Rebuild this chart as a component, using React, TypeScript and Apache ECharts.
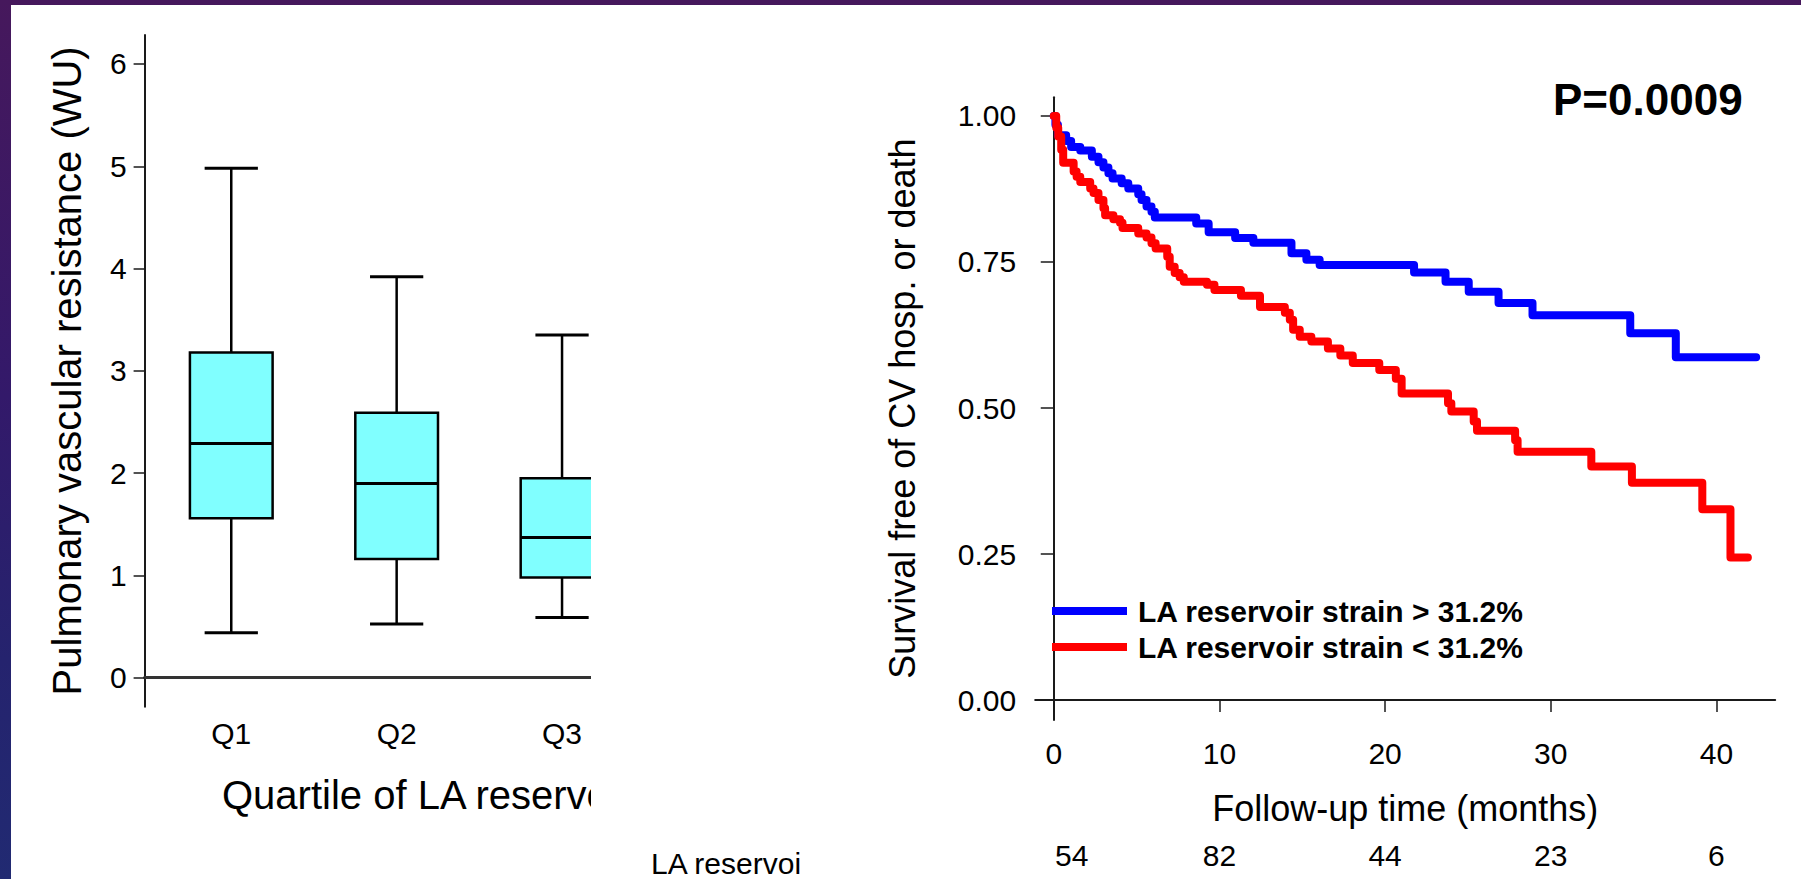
import React, { useEffect, useRef } from "react";
import * as echarts from "echarts";

// ---------- Left panel: box plot of PVR by quartile ----------
const quartiles = ["Q1", "Q2", "Q3"];
const pvrMin = [0.44, 0.525, 0.59];
const pvrQ1 = [1.56, 1.16, 0.98];
const pvrMedian = [2.29, 1.9, 1.37];
const pvrQ3 = [3.18, 2.59, 1.95];
const pvrMax = [4.98, 3.92, 3.35];
const pvrTicks = [0, 1, 2, 3, 4, 5, 6];

// ---------- Right panel: Kaplan-Meier curves ----------
const highStrainName = "LA reservoir strain > 31.2%";
const lowStrainName = "LA reservoir strain < 31.2%";
const highStrain: [number, number][] = [
  [0, 1.0], [0.1, 0.985], [0.25, 0.967], [0.75, 0.957], [1.05, 0.947], [1.6, 0.941],
  [2.3, 0.93], [2.7, 0.921], [3.0, 0.912], [3.3, 0.902], [3.55, 0.893], [4.1, 0.885],
  [4.5, 0.876], [5.1, 0.866], [5.3, 0.856], [5.6, 0.845], [5.9, 0.836], [6.1, 0.826],
  [8.6, 0.816], [9.35, 0.801], [10.95, 0.791], [12.05, 0.783], [14.35, 0.765],
  [15.25, 0.754], [16.05, 0.745], [21.75, 0.732], [23.65, 0.716], [25.05, 0.699],
  [26.85, 0.68], [28.9, 0.659], [34.8, 0.628], [37.55, 0.587], [42.4, 0.587],
];
const lowStrain: [number, number][] = [
  [0, 1.0], [0.15, 0.98], [0.27, 0.965], [0.45, 0.942], [0.57, 0.92], [1.2, 0.905],
  [1.38, 0.896], [1.6, 0.887], [2.2, 0.876], [2.4, 0.868], [2.7, 0.856], [3.0, 0.842],
  [3.1, 0.83], [3.6, 0.823], [4.0, 0.817], [4.15, 0.808], [5.1, 0.799], [5.6, 0.792],
  [5.9, 0.782], [6.15, 0.773], [6.85, 0.759], [7.0, 0.742], [7.3, 0.731], [7.6, 0.724],
  [7.85, 0.716], [9.25, 0.711], [9.7, 0.702], [11.3, 0.692], [12.45, 0.673],
  [13.95, 0.663], [14.25, 0.651], [14.45, 0.634], [14.85, 0.622], [15.55, 0.614],
  [16.55, 0.602], [17.3, 0.59], [18.05, 0.577], [19.65, 0.565], [20.65, 0.55],
  [21.0, 0.525], [23.8, 0.508], [24.0, 0.494], [25.35, 0.477], [25.55, 0.461],
  [27.85, 0.445], [28.0, 0.425], [32.45, 0.4], [34.9, 0.372], [39.15, 0.3265],
  [40.85, 0.244], [41.9, 0.244],
];
const survTicks = [0, 0.25, 0.5, 0.75, 1];
const timeTicks = [0, 10, 20, 30, 40];
const atRisk = [54, 82, 44, 23, 6];

const FONT = "'Liberation Sans', Arial, Helvetica, sans-serif";
const AXIS_COLOR = "#1a1a1a";

export default function App() {
  const leftRef = useRef<HTMLDivElement>(null);
  const rightRef = useRef<HTMLDivElement>(null);

  useEffect(() => {
    const left = echarts.init(leftRef.current!, undefined, { renderer: "svg" });
    const right = echarts.init(rightRef.current!, undefined, { renderer: "svg" });

    const boxData = quartiles.map((_, i) => [
      i + 1, pvrMin[i], pvrQ1[i], pvrMedian[i], pvrQ3[i], pvrMax[i],
    ]);

    left.setOption({
      animation: false,
      textStyle: { fontFamily: FONT },
      grid: {
        left: 144.6, top: 35, width: 672.8, height: 671.7,
        outerBoundsMode: "none", containLabel: false,
      },
      xAxis: {
        type: "value",
        min: 0.476,
        max: 4.544,
        splitLine: { show: false },
        axisLine: { show: true, lineStyle: { color: "#333", width: 3 } },
        axisTick: { show: false },
        axisLabel: {
          customValues: [1, 2, 3],
          formatter: (v: number) => quartiles[Math.round(v) - 1] ?? "",
          fontSize: 30,
          color: "#000",
          margin: 12,
          fontFamily: FONT,
        },
        name: "Quartile of LA reservoir strain",
        nameLocation: "middle",
        nameGap: 68,
        nameTextStyle: { fontSize: 40, color: "#000", fontFamily: FONT },
      },
      yAxis: {
        type: "value",
        min: -0.283,
        max: 6.283,
        splitLine: { show: false },
        axisLine: { show: true, lineStyle: { color: AXIS_COLOR, width: 2 } },
        axisTick: {
          show: true,
          customValues: pvrTicks,
          length: 11,
          lineStyle: { color: AXIS_COLOR, width: 1.5 },
        },
        axisLabel: {
          customValues: pvrTicks,
          fontSize: 30,
          color: "#000",
          margin: 18,
          fontFamily: FONT,
        },
        name: "Pulmonary vascular resistance (WU)",
        nameLocation: "middle",
        nameGap: 58,
        nameTextStyle: { fontSize: 40, color: "#000", fontFamily: FONT },
      },
      series: [
        {
          type: "custom",
          clip: false,
          encode: { x: 0, y: [1, 2, 3, 4, 5] },
          data: boxData,
          renderItem: (_params: any, api: any) => {
            const x = api.value(0);
            const lo = api.coord([x, api.value(1)]);
            const q1 = api.coord([x, api.value(2)]);
            const md = api.coord([x, api.value(3)]);
            const q3 = api.coord([x, api.value(4)]);
            const hi = api.coord([x, api.value(5)]);
            const unit = api.size([1, 0])[0];
            const bw = unit * 0.5;
            const cw = unit * 0.322;
            const cx = md[0];
            const st = { stroke: "#000", lineWidth: 2.5 };
            return {
              type: "group",
              children: [
                { type: "line", shape: { x1: cx, y1: q3[1], x2: cx, y2: hi[1] }, style: st },
                { type: "line", shape: { x1: cx, y1: q1[1], x2: cx, y2: lo[1] }, style: st },
                { type: "line", shape: { x1: cx - cw / 2, y1: hi[1], x2: cx + cw / 2, y2: hi[1] }, style: { stroke: "#000", lineWidth: 3 } },
                { type: "line", shape: { x1: cx - cw / 2, y1: lo[1], x2: cx + cw / 2, y2: lo[1] }, style: { stroke: "#000", lineWidth: 3 } },
                {
                  type: "rect",
                  shape: { x: cx - bw / 2, y: q3[1], width: bw, height: q1[1] - q3[1] },
                  style: { fill: "#80FFFF", stroke: "#000", lineWidth: 2.5 },
                },
                { type: "line", shape: { x1: cx - bw / 2, y1: md[1], x2: cx + bw / 2, y2: md[1] }, style: { stroke: "#000", lineWidth: 3 } },
              ],
            };
          },
        },
      ],
    });

    right.setOption({
      animation: false,
      textStyle: { fontFamily: FONT },
      grid: {
        left: 1035.2, top: 97.3, width: 740, height: 622.7,
        outerBoundsMode: "none", containLabel: false,
      },
      legend: {
        orient: "vertical",
        left: 1047,
        top: 591,
        itemWidth: 75,
        itemHeight: 8,
        itemGap: 6,
        icon: "rect",
        data: [highStrainName, lowStrainName],
        textStyle: {
          fontSize: 30,
          fontWeight: "bold",
          color: "#000",
          fontFamily: FONT,
          lineHeight: 30,
          padding: [0, 0, 0, 6],
        },
      },
      xAxis: [
        {
          type: "value",
          min: -1.12,
          max: 43.55,
          splitLine: { show: false },
          axisLine: { show: true, lineStyle: { color: AXIS_COLOR, width: 2 } },
          axisTick: {
            show: true,
            customValues: timeTicks,
            length: 12,
            lineStyle: { color: AXIS_COLOR, width: 1.5 },
          },
          axisLabel: {
            customValues: timeTicks,
            fontSize: 30,
            color: "#000",
            margin: 18,
            fontFamily: FONT,
          },
          name: "Follow-up time (months)",
          nameLocation: "middle",
          nameGap: 70,
          nameTextStyle: { fontSize: 36, color: "#000", fontFamily: FONT },
        },
        {
          type: "value",
          position: "bottom",
          offset: 120,
          min: -1.12,
          max: 43.55,
          splitLine: { show: false },
          axisLine: { show: false },
          axisTick: { show: false },
          axisLabel: {
            customValues: timeTicks,
            fontSize: 30,
            color: "#000",
            margin: 0,
            fontFamily: FONT,
            formatter: (v: number) => {
              const i = timeTicks.indexOf(v);
              const n = i >= 0 ? String(atRisk[i]) : "";
              return i === 0 ? "{first|" + n + "}" : n;
            },
            rich: { first: { fontSize: 30, color: "#000", fontFamily: FONT, padding: [0, 0, 0, 36] } },
          },
        },
      ],
      yAxis: {
        type: "value",
        min: -0.0342,
        max: 1.032,
        splitLine: { show: false },
        axisLine: { show: true, lineStyle: { color: AXIS_COLOR, width: 2 } },
        axisTick: {
          show: true,
          customValues: survTicks,
          length: 13,
          lineStyle: { color: AXIS_COLOR, width: 1.5 },
        },
        axisLabel: {
          customValues: survTicks,
          formatter: (v: number) => v.toFixed(2),
          fontSize: 30,
          color: "#000",
          margin: 19,
          fontFamily: FONT,
        },
        name: "Survival free of CV hosp. or death",
        nameLocation: "middle",
        nameGap: 115,
        nameTextStyle: { fontSize: 36, color: "#000", fontFamily: FONT },
      },
      graphic: [
        {
          type: "text",
          x: 1553,
          y: 99,
          style: {
            text: "P=0.0009",
            font: "bold 44px " + FONT,
            fill: "#000",
            verticalAlign: "middle",
            align: "left",
          },
        },
        {
          type: "text",
          x: 651,
          y: 863,
          style: {
            text: "LA reservoi",
            font: "30px " + FONT,
            fill: "#000",
            verticalAlign: "middle",
            align: "left",
          },
        },
      ],
      series: [
        {
          name: highStrainName,
          type: "line",
          step: "end",
          showSymbol: false,
          data: highStrain,
          color: "#0000FF",
          lineStyle: { width: 8, color: "#0000FF", cap: "round", join: "round" },
        },
        {
          name: lowStrainName,
          type: "line",
          step: "end",
          showSymbol: false,
          data: lowStrain,
          color: "#FF0000",
          lineStyle: { width: 8, color: "#FF0000", cap: "round", join: "round" },
        },
      ],
    });

    return () => {
      left.dispose();
      right.dispose();
    };
  }, []);

  return (
    <div
      style={{
        position: "fixed",
        left: 0,
        top: 0,
        width: 1801,
        height: 879,
        overflow: "hidden",
        background: "linear-gradient(180deg, #46185c 0%, #33196a 45%, #25236e 75%, #212a72 100%)",
      }}
    >
      <div style={{ position: "absolute", left: 11, top: 5, right: 0, bottom: 0, background: "#ffffff" }} />
      <div
        ref={leftRef}
        style={{ position: "absolute", left: 0, top: 0, width: 591, height: 879, overflow: "hidden" }}
      />
      <div ref={rightRef} style={{ position: "absolute", left: 0, top: 0, width: 1801, height: 879 }} />
    </div>
  );
}
